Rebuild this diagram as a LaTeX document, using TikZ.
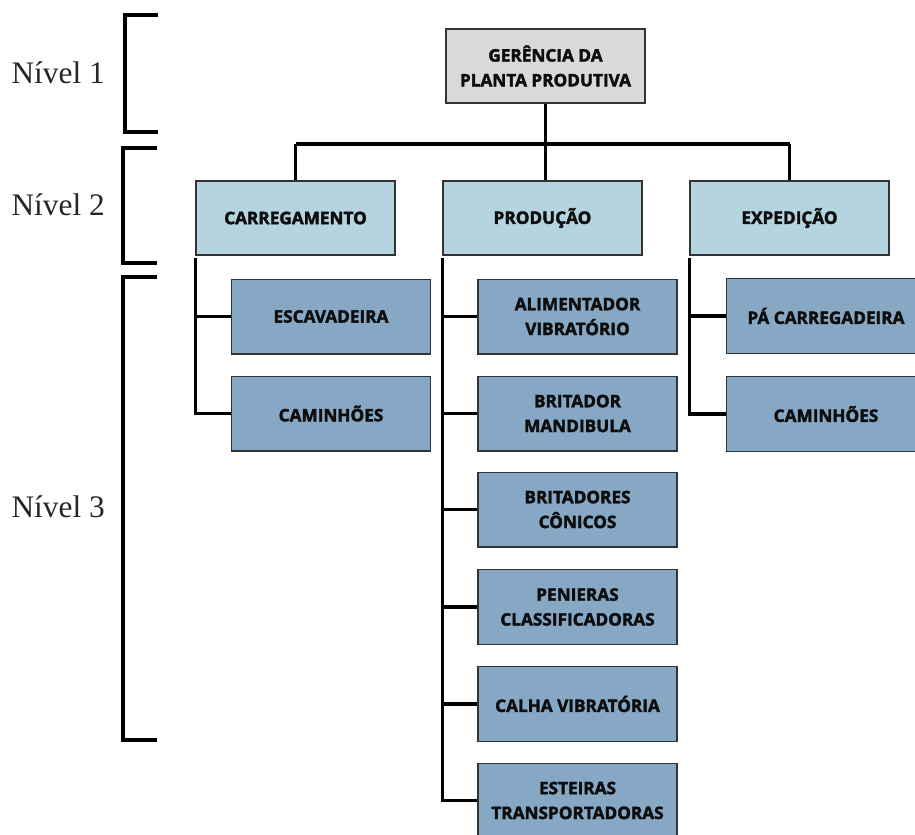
\documentclass[tikz,border=0pt]{standalone}
\usepackage{fontspec}
\setmainfont{Liberation Serif}
\newfontfamily\boxfont{Open Sans}[BoldFeatures={FakeBold=2.2}]
\begin{document}
\begin{tikzpicture}[x=0.75pt,y=-0.75pt,
  lvlbox/.style={draw=black!80, line width=1pt, rectangle, align=center,
    minimum width=149.25pt, minimum height=55.5pt, inner sep=0pt,
    font=\boxfont\bfseries\fontsize{12.9}{18.6}\selectfont, text=black!95},
  headbox/.style={lvlbox, fill=headgray},
  midbox/.style={lvlbox, fill=midblue},
  leafbox/.style={lvlbox, fill=leafblue, minimum height=56pt},
  link/.style={line width=2.4pt, black},
  brace/.style={line width=2.4pt, black, line join=miter},
  lvllabel/.style={font=\fontsize{23.5}{28}\selectfont, text=black!85, anchor=base east, inner sep=0pt}
]
\definecolor{headgray}{HTML}{D9D9D9}
\definecolor{midblue}{HTML}{B4D4E0}
\definecolor{leafblue}{HTML}{86A8C5}
\useasboundingbox (0,0) rectangle (915,835);

% level 1
\node[headbox] (top) at (545.5,66) {GERÊNCIA DA\\PLANTA PRODUTIVA};

% level 2
\node[midbox] (carr) at (295.5,218) {CARREGAMENTO};
\node[midbox] (prod) at (542.5,218) {PRODUÇÃO};
\node[midbox] (exped) at (789.5,218) {EXPEDIÇÃO};

% level 3 under CARREGAMENTO
\node[leafbox] (esc) at (331,316.5) {ESCAVADEIRA};
\node[leafbox] (camA) at (331,413.5) {CAMINHÕES};

% level 3 under PRODUÇÃO
\node[leafbox] (ali) at (577.5,316.5) {ALIMENTADOR\\VIBRATÓRIO};
\node[leafbox] (brm) at (577.5,413.5) {BRITADOR\\MANDIBULA};
\node[leafbox] (brc) at (577.5,509.5) {BRITADORES\\CÔNICOS};
\node[leafbox] (pen) at (577.5,607) {PENIERAS\\CLASSIFICADORAS};
\node[leafbox] (calha) at (577.5,704) {CALHA VIBRATÓRIA};
\node[leafbox] (est) at (577.5,800.5) {ESTEIRAS\\TRANSPORTADORAS};

% level 3 under EXPEDIÇÃO
\node[leafbox] (pa) at (826,316) {PÁ CARREGADEIRA};
\node[leafbox] (camB) at (826,414) {CAMINHÕES};

% tree from the top box to level 2
\coordinate (barL) at (carr.north |- 0,144);
\coordinate (barR) at (exped.north |- 0,144);
\draw[link] (top.south) -- (top.south |- prod.north);
\draw[link] (barL) -- (barR);
\draw[link] (barL) -- (carr.north);
\draw[link] (barR) -- (exped.north);

% trunks from level 2 to level 3
\draw[link] ([yshift=-1.5pt]carr.south west) -- (carr.south west |- camA.west) -- (camA.west);
\draw[link] (carr.south west |- esc.west) -- (esc.west);

\draw[link] ([yshift=-1.5pt]prod.south west) -- (prod.south west |- est.west) -- (est.west);
\foreach \n in {ali,brm,brc,pen,calha}
  \draw[link] (prod.south west |- \n.west) -- (\n.west);

\draw[link] ([yshift=-1.5pt]exped.south west) -- (exped.south west |- camB.west) -- (camB.west);
\draw[link] (exped.south west |- pa.west) -- (pa.west);

% level brackets and their labels
\draw[brace] (158,15) -- (125,15) -- (125,132) -- (158,132);
\draw[brace] (157,148) -- (123,148) -- (123,263) -- (157,263);
\draw[brace] (157,277) -- (123,277) -- (123,740) -- (157,740);

\node[lvllabel] (n1) at (105,83) {Nível 1};
\node[lvllabel] (n2) at (105,215) {Nível 2};
\node[lvllabel] (n3) at (105,517) {Nível 3};
\end{tikzpicture}
\end{document}
